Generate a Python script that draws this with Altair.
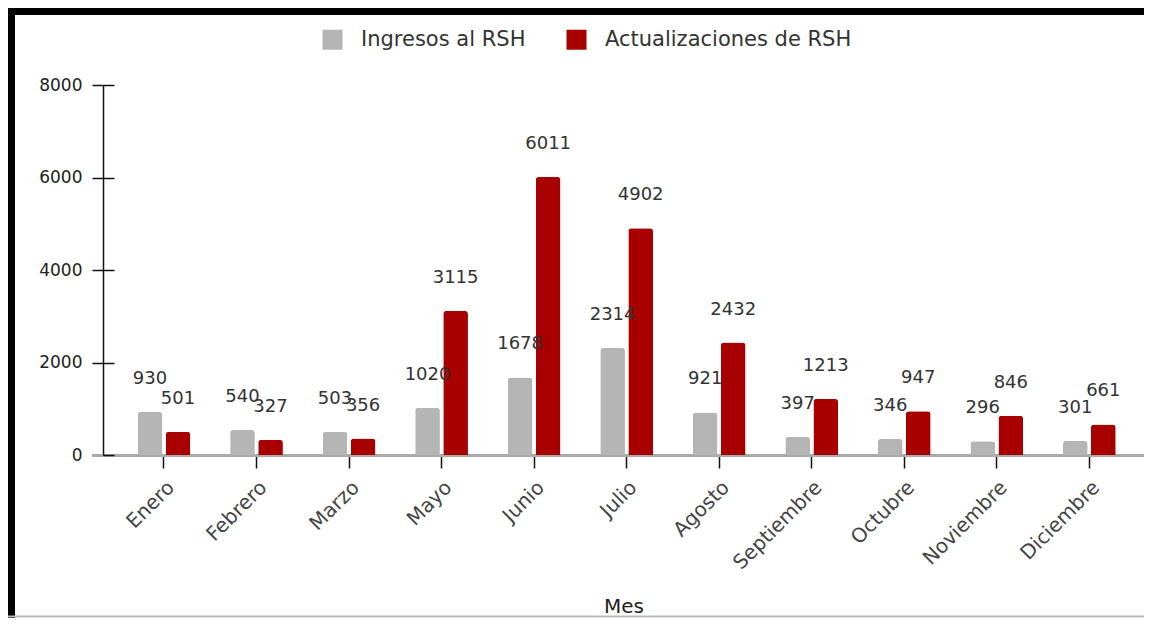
import altair as alt
import pandas as pd

months = ["Enero", "Febrero", "Marzo", "Mayo", "Junio", "Julio", "Agosto",
          "Septiembre", "Octubre", "Noviembre", "Diciembre"]
ingresos = [930, 540, 503, 1020, 1678, 2314, 921, 397, 346, 296, 301]
actualizaciones = [501, 327, 356, 3115, 6011, 4902, 2432, 1213, 947, 846, 661]
series = ["Ingresos al RSH", "Actualizaciones de RSH"]
colors = ["#b5b5b5", "#a80000"]
y_ticks = [0, 2000, 4000, 6000, 8000]

rows = []
for i, m in enumerate(months):
    rows.append({"Mes": m, "Serie": series[0], "Valor": ingresos[i]})
    rows.append({"Mes": m, "Serie": series[1], "Valor": actualizaciones[i]})
df = pd.DataFrame(rows)

FONT = "DejaVu Sans"

x_scale = alt.Scale(paddingInner=0.43, paddingOuter=0.34, align=0.55)
x_enc = alt.X(
    "Mes:N", sort=months, scale=x_scale,
    axis=alt.Axis(
        title="Mes", labelAngle=-45, labelFontSize=20, labelColor="#444",
        labelFont=FONT, labelPadding=9, labelLimit=0,
        domainColor="#aaaaaa", domainWidth=3, tickColor="#111", tickWidth=1.5,
        tickSize=13, titleFontSize=20, titleFontWeight="normal", titleFont=FONT,
        titleColor="#222", titleY=151, titleBaseline="middle",
    ),
)
y_scale = alt.Scale(domain=[0, 8000], nice=False)
y_enc = alt.Y(
    "Valor:Q", scale=y_scale,
    axis=alt.Axis(
        title=None, values=y_ticks, grid=False, domainColor="#111", format="d",
        domainWidth=1.5, tickColor="#111", tickWidth=1.5, tickSize=11,
        labelFontSize=17, labelFont=FONT, labelColor="#222", labelPadding=10,
    ),
)
y_inner = alt.Y(
    "Valor:Q", scale=y_scale,
    axis=alt.Axis(
        title=None, values=y_ticks, grid=False, domain=False, labels=False,
        orient="left", offset=-11, tickColor="#111", tickWidth=1.5, tickSize=11,
    ),
)
color = alt.Color(
    "Serie:N", sort=series,
    scale=alt.Scale(domain=series, range=colors),
    legend=alt.Legend(
        title=None, orient="none", direction="horizontal",
        legendX=219, legendY=-56, symbolType="square", symbolSize=400,
        symbolStrokeWidth=0, labelFontSize=21, labelFont=FONT, labelLimit=0,
        labelColor="#333", columnPadding=40, labelOffset=18,
    ),
)

bars = alt.Chart(df).mark_bar(cornerRadiusTopLeft=3, cornerRadiusTopRight=3).encode(
    x=x_enc, y=y_enc,
    xOffset=alt.XOffset("Serie:N", sort=series, scale=alt.Scale(paddingInner=0.12)),
    color=color,
)
labels = alt.Chart(df).mark_text(
    baseline="middle", dy=-33, fontSize=18, font=FONT, color="#333"
).encode(
    x=alt.X("Mes:N", sort=months, scale=x_scale),
    y=y_inner,
    xOffset=alt.XOffset("Serie:N", sort=series, scale=alt.Scale(paddingInner=0.12)),
    text="Valor:Q",
)

one = pd.DataFrame({"k": [0]})
top_bar = alt.Chart(one).mark_rule(color="black", strokeWidth=7).encode(
    x=alt.value(-95), x2=alt.value(1041), y=alt.value(-73.5)
)
left_bar = alt.Chart(one).mark_rule(color="black", strokeWidth=7).encode(
    x=alt.value(-91.5), y=alt.value(-77), y2=alt.value(533)
)
bottom_line = alt.Chart(one).mark_rule(color="#bbbbbb", strokeWidth=2).encode(
    x=alt.value(-95), x2=alt.value(1041), y=alt.value(531.5)
)
axis_ext = alt.Chart(one).mark_rule(color="#aaaaaa", strokeWidth=3).encode(
    x=alt.value(-11), x2=alt.value(0), y=alt.value(370.5)
)

chart = alt.layer(top_bar, left_bar, bottom_line, axis_ext, bars, labels).resolve_scale(
    y="shared"
).resolve_axis(y="independent").properties(
    width=1041, height=370,
    autosize=alt.AutoSizeParams(type="none"),
    padding={"left": 95, "top": 77, "right": 0, "bottom": 163},
).configure(background="white").configure_view(strokeOpacity=0, strokeWidth=0)

chart.save("out.html", embed_options={"renderer": "svg", "actions": False})
